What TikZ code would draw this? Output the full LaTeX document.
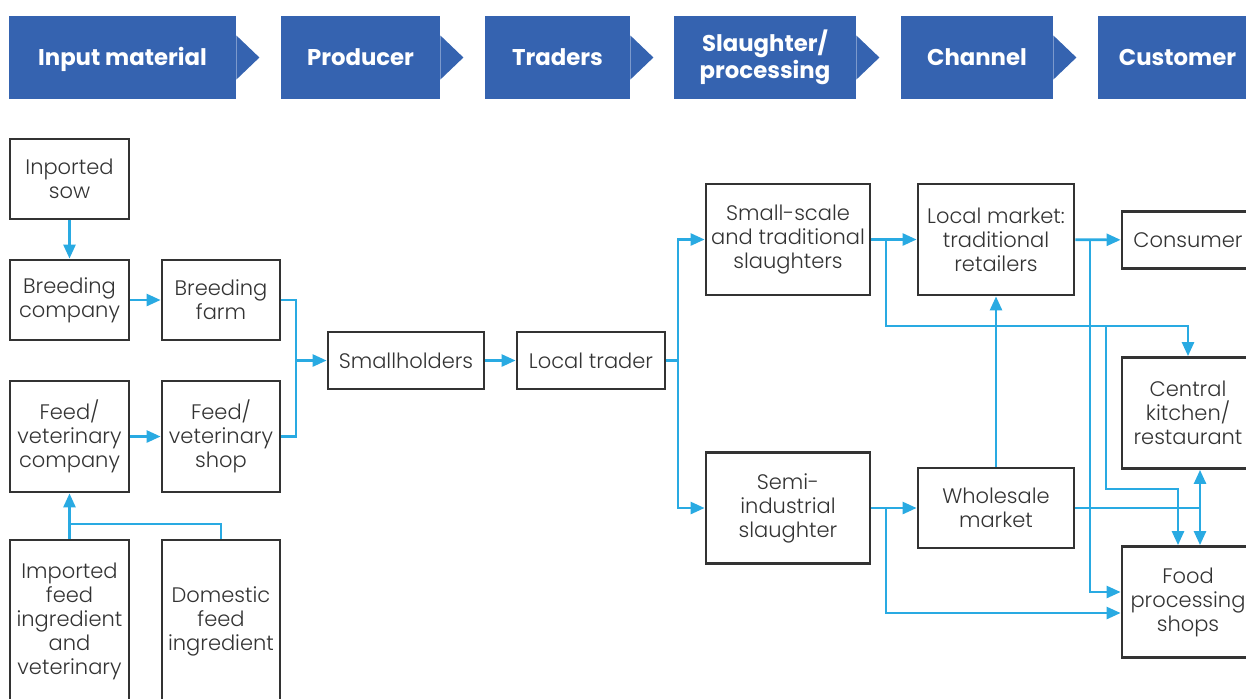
\documentclass[tikz,border=0pt]{standalone}
\usepackage{fontspec}
\setmainfont{Poppins Light}[BoldFont=Poppins Bold]
\usetikzlibrary{calc, positioning, arrows.meta}
\definecolor{headblue}{RGB}{53,99,176}
\definecolor{flowblue}{RGB}{41,170,226}
\definecolor{boxgray}{RGB}{51,51,51}
\tikzset{
  % Stage header (blue band)
  head/.style={rectangle, fill=headblue, text=white, minimum height=41.5pt, inner sep=0pt,
    align=center, font=\fontsize{11.4}{13.5}\selectfont\bfseries},
  oneline/.style={text height=8pt, text depth=0pt},
  % Actor box
  box/.style={rectangle, draw=boxgray, line width=1.4pt, inner sep=0pt, align=center,
    text=boxgray, font=\fontsize{10.5}{12}\selectfont},
  % Connectors
  link/.style={draw=flowblue, line width=1.3pt},
  flow/.style={link, -{Triangle[length=7pt, width=6pt]}},
}

\begin{document}
\begin{tikzpicture}[x=0.5pt, y=-0.5pt]
  \useasboundingbox (0,0) rectangle (1246,698);
  \clip (0,0) rectangle (1246,698);

  % --- HEADER ---
  \node[head, oneline, minimum width=113.5pt] (h1) at (122.5, 57.5) {Input material};
  \node[head, oneline, minimum width=79.5pt]  (h2) at (360.5, 57.5) {Producer};
  \node[head, oneline, minimum width=72.5pt]  (h3) at (557.5, 57.5) {Traders};
  \node[head, minimum width=91pt]             (h4) at (765, 57.5) {Slaughter/\\processing};
  \node[head, oneline, minimum width=76pt]    (h5) at (977, 57.5) {Channel};
  \node[head, oneline, minimum width=79.5pt]  (h6) at (1177.5, 57.5) {Customer};
  \foreach \h in {h1,h2,h3,h4,h5}
    \fill[headblue] ($(\h.east)+(0,-22)$) -- ++(23,22) -- ++(-23,22) -- cycle;

  % --- INPUT MATERIAL ---
  \node[box, minimum width=59.5pt, minimum height=40pt]   (sow)     at (69.5, 179) {Inported\\sow};
  \node[box, minimum width=59.5pt, minimum height=40pt]   (bcomp)   at (69.5, 300) {Breeding\\company};
  \node[box, minimum width=59.5pt, minimum height=55.5pt] (fcomp)   at (69.5, 436.5) {Feed/\\veterinary\\company};
  \node[box, minimum width=59.5pt, minimum height=81pt]   (impfeed) at (69.5, 621) {Imported\\feed\\ingredient\\and\\veterinary};
  \node[box, minimum width=59pt, minimum height=81pt]     (domfeed) at (221, 621) {Domestic\\feed\\ingredient};

  % --- PRODUCER ---
  \node[box, minimum width=59pt, minimum height=40pt]   (bfarm) at (221, 300) {Breeding\\farm};
  \node[box, minimum width=59pt, minimum height=55.5pt] (fshop) at (221, 436.5) {Feed/\\veterinary\\shop};
  \node[box, minimum width=78pt, minimum height=28.5pt] (small) at (406, 360.5) {Smallholders};

  % --- TRADERS ---
  \node[box, minimum width=74pt, minimum height=28.5pt] (trader) at (591, 360.5) {Local trader};

  % --- SLAUGHTER ---
  \node[box, minimum width=82pt, minimum height=55.5pt] (slaught) at (788, 239.5) {Small-scale\\and traditional\\slaughters};
  \node[box, minimum width=82pt, minimum height=55.5pt] (semi)    at (788, 508) {Semi-\\industrial\\slaughter};

  % --- CHANNEL ---
  \node[box, minimum width=78pt, minimum height=55.5pt] (locmkt) at (996, 239.5) {Local market:\\traditional\\retailers};
  \node[box, minimum width=78pt, minimum height=40pt]   (whole)  at (996, 508) {Wholesale\\market};

  % --- CUSTOMER ---
  \node[box, minimum width=66pt, minimum height=28.5pt] (consumer) at (1188, 240) {Consumer};
  \node[box, minimum width=66pt, minimum height=55.5pt] (kitchen)  at (1188, 413) {Central\\kitchen/\\restaurant};
  \node[box, minimum width=66pt, minimum height=55.5pt] (food)     at (1188, 602) {Food\\processing\\shops};

  % Junction points
  \coordinate (jprod) at (296, 360.5);
  \coordinate (jfeed) at (69.5, 524);
  \coordinate (jtr)   at (678, 360.5);
  \coordinate (jss)   at (886, 239.5);
  \coordinate (jmid)  at (1106, 326);
  \coordinate (jkit)  at (1178, 489);
  \coordinate (jlm)   at (1090, 240);
  \coordinate (jse)   at (886, 508);
  \coordinate (jwh)   at (1200, 508);

  % --- LEFT FLOWS ---
  \draw[flow] (sow) -- (bcomp);
  \draw[flow] (bcomp) -- (bfarm);
  \draw[flow] (fcomp) -- (fshop);
  \draw[flow] (impfeed) -- (fcomp);
  \draw[link] (domfeed.north) |- (jfeed);
  \draw[link] (bfarm.east) -| (jprod) |- (fshop.east);
  \draw[flow] (jprod) -- (small);
  \draw[flow] (small) -- (trader);
  \draw[link] (trader) -- (jtr);
  \draw[flow] (jtr) |- (slaught);
  \draw[flow] (jtr) |- (semi);

  % --- RIGHT FLOWS ---
  \draw[flow] (slaught) -- (locmkt);
  \draw[flow] (jss) |- (jmid) -| (kitchen);
  \draw[flow] (jmid) |- (jkit) -- (jkit |- food.north);
  \draw[flow] (locmkt) -- (consumer);
  \draw[flow] (jlm) |- ([yshift=5pt]food.west);
  \draw[flow] (semi) -- (whole);
  \draw[flow] (jse) |- ([yshift=-5.5pt]food.west);
  \draw[flow] (whole) -- (locmkt);
  \draw[link] (whole) -- (jwh);
  \draw[flow] (jwh) -- (jwh |- kitchen.south);
  \draw[flow] (jwh) -- (jwh |- food.north);

\end{tikzpicture}
\end{document}
